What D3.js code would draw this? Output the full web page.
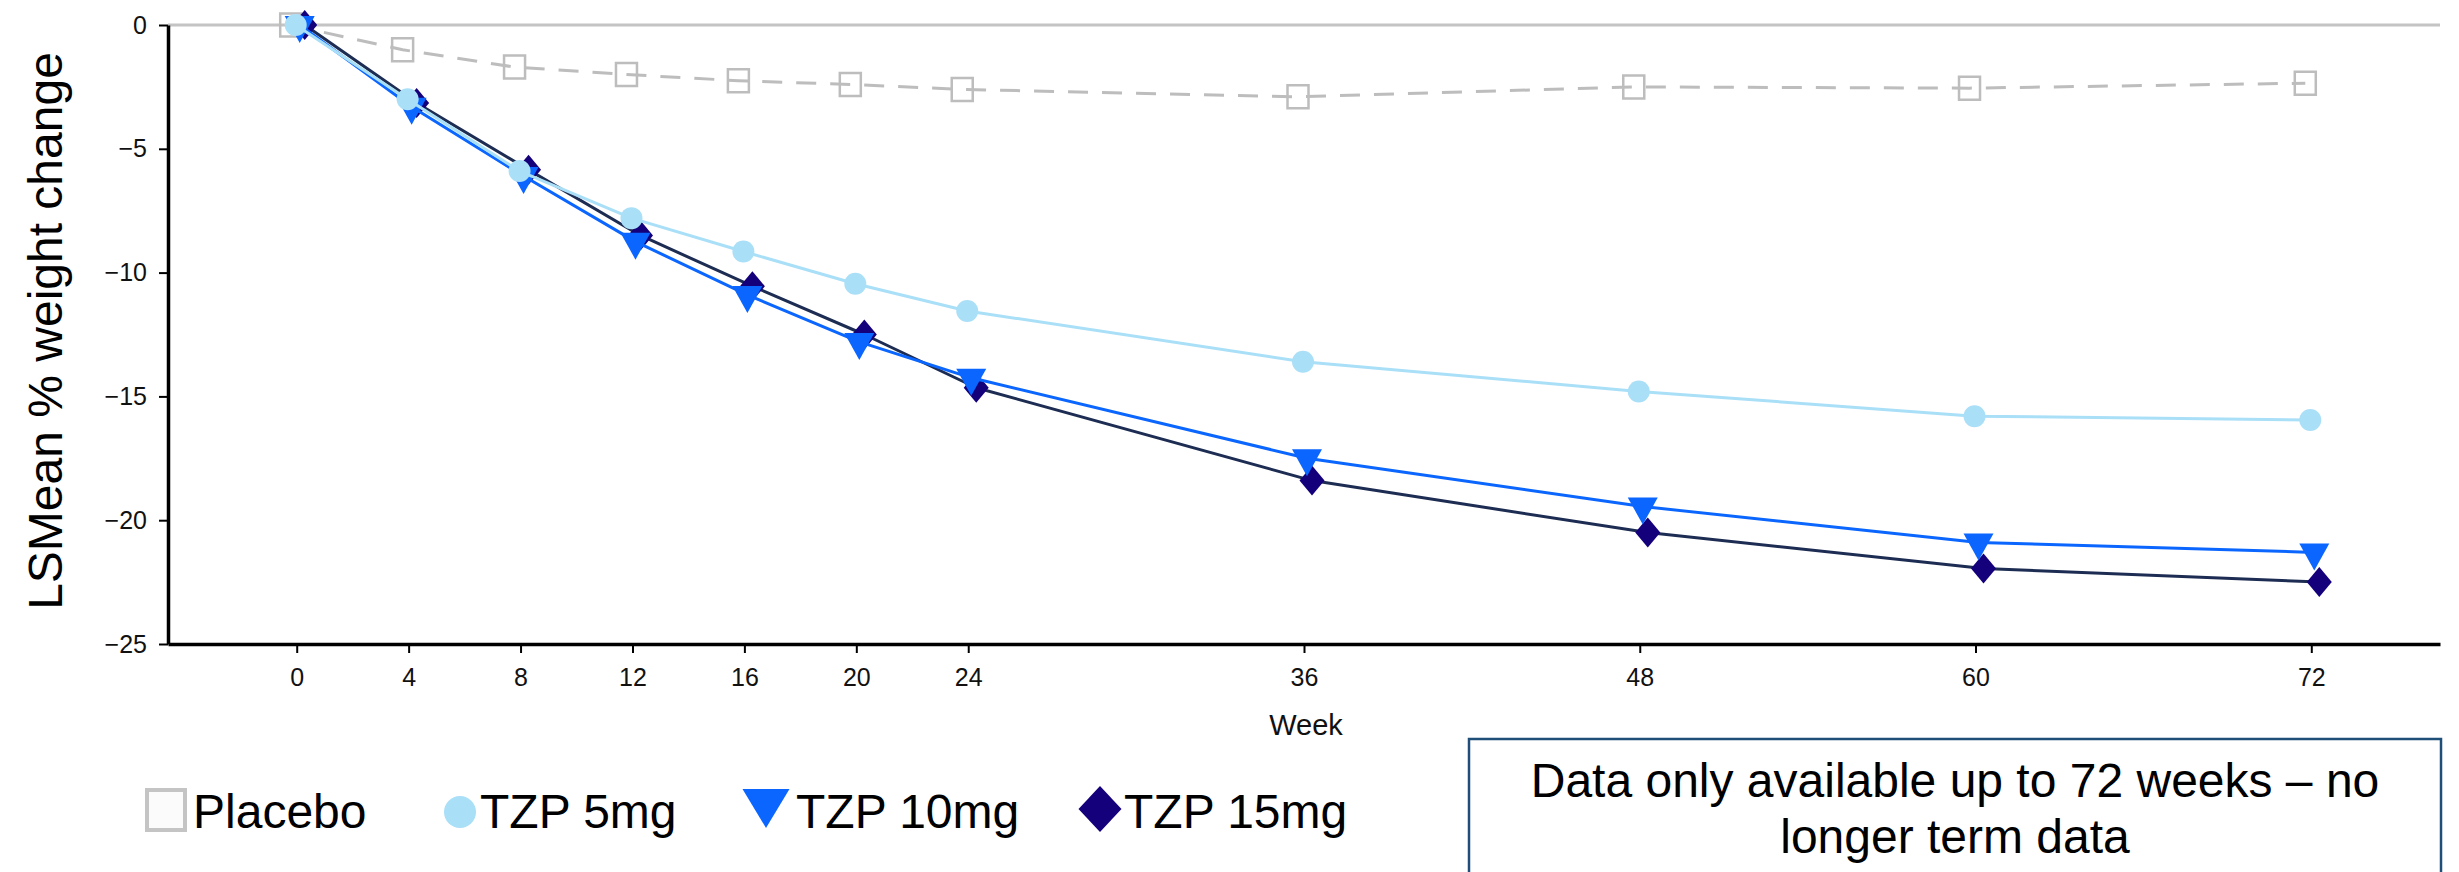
<!DOCTYPE html>
<html>
<head>
<meta charset="utf-8">
<script src="https://cdn.jsdelivr.net/npm/d3@7"></script>
<style>
  html, body { margin: 0; padding: 0; background: #ffffff; }
  svg { display: block; font-family: "Liberation Sans", Arial, Helvetica, sans-serif; }
</style>
</head>
<body>
<svg id="chart" width="2459" height="872"></svg>
<script>
// ---------------- DATA ----------------
const weeks = [0, 4, 8, 12, 16, 20, 24, 36, 48, 60, 72];
const placebo = [0, -1.0, -1.7, -2.0, -2.25, -2.4, -2.6, -2.9, -2.5, -2.55, -2.35];
const tzp5mg  = [0, -3.0, -5.9, -7.8, -9.15, -10.45, -11.55, -13.6, -14.8, -15.8, -15.95];
const tzp10mg = [0, -3.3, -6.1, -8.75, -10.9, -12.8, -14.25, -17.5, -19.45, -20.9, -21.3];
const tzp15mg = [0, -3.15, -5.85, -8.5, -10.55, -12.5, -14.65, -18.4, -20.5, -21.95, -22.5];
const xTickValues = [0, 4, 8, 12, 16, 20, 24, 36, 48, 60, 72];
const yTickValues = [0, -5, -10, -15, -20, -25];
const seriesNames = ["Placebo", "TZP 5mg", "TZP 10mg", "TZP 15mg"];
const yAxisTitle = "LSMean % weight change";
const xAxisTitle = "Week";
const noteLines = ["Data only available up to 72 weeks \u2013 no", "longer term data"];

// ---------------- LAYOUT ----------------
const svg = d3.select("#chart");
const plotLeft = 168, plotRight = 2440, plotTop = 25, plotBottom = 644;

const x = d3.scaleLinear().domain([-4.6, 76.6]).range([plotLeft, plotRight]);
const y = d3.scaleLinear().domain([-25, 0]).range([plotBottom, plotTop]);

const styles = {
  "Placebo":  { line: "#bdbdbd", width: 3, dash: "20,14", marker: "square",   fill: "none",    stroke: "#bdbdbd", dx: -6 },
  "TZP 5mg":  { line: "#aadff8", width: 3, dash: null,    marker: "circle",   fill: "#aadff8", stroke: null,      dx: -1 },
  "TZP 10mg": { line: "#0a66ff", width: 3, dash: null,    marker: "triangle", fill: "#0a66ff", stroke: null,      dx: 3 },
  "TZP 15mg": { line: "#1d2c52", width: 3, dash: null,    marker: "diamond",  fill: "#14007a", stroke: null,      dx: 8 }
};
const valuesByName = {
  "Placebo": placebo, "TZP 5mg": tzp5mg, "TZP 10mg": tzp10mg, "TZP 15mg": tzp15mg
};

// zero reference line (gray)
svg.append("line")
  .attr("x1", x(-4.6)).attr("x2", x(76.6))
  .attr("y1", y(0)).attr("y2", y(0))
  .attr("stroke", "#c4c4c4").attr("stroke-width", 3);

// axes
const xAxis = d3.axisBottom(x).tickValues(xTickValues).tickSize(9).tickSizeOuter(0).tickPadding(15);
const gx = svg.append("g").attr("transform", `translate(0,${plotBottom})`).call(xAxis);
gx.select(".domain").attr("stroke", "#000").attr("stroke-width", 3.5);
gx.selectAll(".tick line").attr("stroke", "#000").attr("stroke-width", 2);
gx.selectAll(".tick text").attr("font-size", 25).attr("fill", "#111")
  .attr("font-family", "'Liberation Sans', Arial, sans-serif");

const yAxis = d3.axisLeft(y).tickValues(yTickValues).tickSize(9).tickSizeOuter(0).tickPadding(12)
  .tickFormat(d => d === 0 ? "0" : "\u2212" + Math.abs(d));
const gy = svg.append("g").attr("transform", `translate(${plotLeft},0)`).call(yAxis);
gy.select(".domain").attr("stroke", "#000").attr("stroke-width", 3.5);
gy.selectAll(".tick line").attr("stroke", "#000").attr("stroke-width", 2);
gy.selectAll(".tick text").attr("font-size", 25).attr("fill", "#111")
  .attr("font-family", "'Liberation Sans', Arial, sans-serif");

// titles
svg.append("text")
  .attr("transform", "translate(62,331) rotate(-90)")
  .attr("text-anchor", "middle")
  .attr("font-size", 48).attr("fill", "#000")
  .text(yAxisTitle);

svg.append("text")
  .attr("x", 1306).attr("y", 735)
  .attr("text-anchor", "middle")
  .attr("font-size", 29).attr("fill", "#111")
  .text(xAxisTitle);

// marker path generators (centered at 0,0)
function markerPath(kind, s) {
  if (kind === "square")   return `M${-10.5*s},${-11.5*s}H${10.5*s}V${11.5*s}H${-10.5*s}Z`;
  if (kind === "triangle") return `M${-15*s},${-9*s}L${15*s},${-9*s}L0,${18*s}Z`;
  if (kind === "diamond")  return `M0,${-15*s}L${12.5*s},0L0,${15*s}L${-12.5*s},0Z`;
  return null;
}

// series: placebo first, then 15, 10, 5 so light circles sit on top
const drawOrder = ["Placebo", "TZP 15mg", "TZP 10mg", "TZP 5mg"];
drawOrder.forEach(name => {
  const st = styles[name];
  const vals = valuesByName[name];
  const pts = weeks.map((w, i) => ({ w, v: vals[i] }));
  const line = d3.line().x(d => x(d.w) + st.dx).y(d => y(d.v));
  const g = svg.append("g").attr("class", "series");
  const p = g.append("path").datum(pts)
    .attr("d", line)
    .attr("fill", "none")
    .attr("stroke", st.line)
    .attr("stroke-width", st.width)
    .attr("stroke-linejoin", "round");
  if (st.dash) p.attr("stroke-dasharray", st.dash);

  if (st.marker === "circle") {
    g.selectAll("circle").data(pts).join("circle")
      .attr("cx", d => x(d.w) + st.dx).attr("cy", d => y(d.v))
      .attr("r", 11).attr("fill", st.fill);
  } else {
    const m = g.selectAll("path.mk").data(pts).join("path")
      .attr("class", "mk")
      .attr("transform", d => `translate(${x(d.w) + st.dx},${y(d.v)})`)
      .attr("d", markerPath(st.marker, 1))
      .attr("fill", st.fill);
    if (st.stroke) m.attr("stroke", st.stroke).attr("stroke-width", 2.5);
  }
});

// legend
const legend = svg.append("g").attr("class", "legend");
const legendItems = [
  { name: "Placebo",  sx: 166,  sy: 810, tx: 193 },
  { name: "TZP 5mg",  sx: 460,  sy: 812, tx: 480 },
  { name: "TZP 10mg", sx: 766,  sy: 802, tx: 796 },
  { name: "TZP 15mg", sx: 1100, sy: 809, tx: 1124 }
];
legendItems.forEach(it => {
  const st = styles[it.name];
  if (st.marker === "square") {
    legend.append("rect")
      .attr("x", it.sx - 19).attr("y", it.sy - 20)
      .attr("width", 38).attr("height", 40)
      .attr("fill", "#fbfbfb").attr("stroke", "#c4c4c4").attr("stroke-width", 4);
  } else if (st.marker === "circle") {
    legend.append("circle").attr("cx", it.sx).attr("cy", it.sy).attr("r", 16).attr("fill", st.fill);
  } else if (st.marker === "triangle") {
    legend.append("path")
      .attr("transform", `translate(${it.sx},${it.sy})`)
      .attr("d", "M-23.5,-13L23.5,-13L0,26Z").attr("fill", st.fill);
  } else {
    legend.append("path")
      .attr("transform", `translate(${it.sx},${it.sy})`)
      .attr("d", "M0,-23L21.5,0L0,23L-21.5,0Z").attr("fill", st.fill);
  }
  legend.append("text")
    .attr("x", it.tx).attr("y", 828)
    .attr("font-size", 48).attr("fill", "#000")
    .text(it.name);
});

// note box
const note = svg.append("g").attr("class", "note");
note.append("rect")
  .attr("x", 1469).attr("y", 739).attr("width", 972).attr("height", 160)
  .attr("fill", "#ffffff").attr("stroke", "#1f4e79").attr("stroke-width", 2.5);
noteLines.forEach((t, i) => {
  note.append("text")
    .attr("x", 1955).attr("y", 797 + i * 56)
    .attr("text-anchor", "middle")
    .attr("font-size", 48).attr("fill", "#000")
    .text(t);
});
</script>
</body>
</html>
